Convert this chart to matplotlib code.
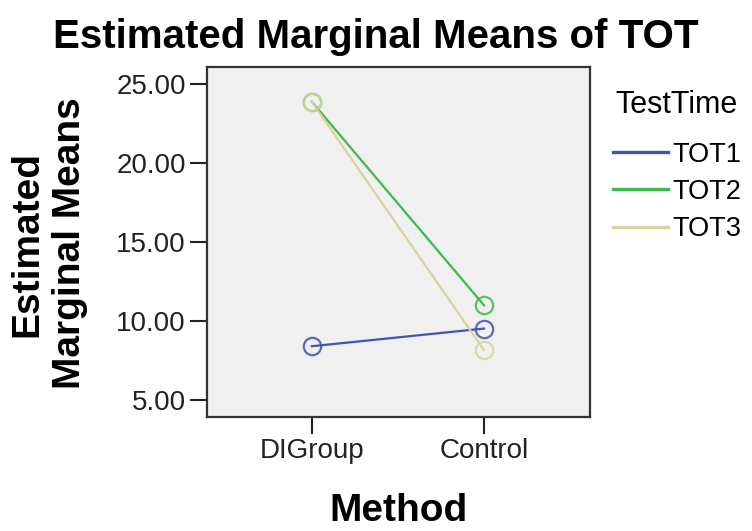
import matplotlib
matplotlib.use('Agg')
import matplotlib.pyplot as plt

# Estimated marginal means
methods = ['DIGroup', 'Control']
tot1 = [8.40, 9.52]
tot2 = [23.88, 10.99]
tot3 = [23.88, 8.15]
series_names = ['TOT1', 'TOT2', 'TOT3']
colors = ['#3f54b2', '#3fb84c', '#d8d29c']
yticks = [5, 10, 15, 20, 25]

plt.rcParams['font.family'] = ['Liberation Sans', 'DejaVu Sans']

fig = plt.figure(figsize=(7.52, 5.31), dpi=100)
ax = fig.add_axes([0.2749, 0.2147, 0.5097, 0.6597])
ax.set_facecolor('#f0f0f0')

x = list(range(len(methods)))
lines = []
for vals, name, c in zip([tot1, tot2, tot3], series_names, colors):
    ln, = ax.plot(x, vals, color=c, lw=1.6, label=name)
    lines.append(ln)
for vals, c in zip([tot1, tot2, tot3], colors):
    ax.plot(x, vals, 'o', ms=12.5, mfc='none', mec=c, mew=1.6, alpha=0.85)

ax.set_xlim(-0.61, 1.615)
ax.set_ylim(3.92, 26.1)
ax.set_xticks(x)
ax.set_xticklabels(methods)
ax.set_yticks(yticks)
ax.set_yticklabels(['%.2f' % v for v in yticks])
ax.tick_params(labelsize=20, length=12, width=1.5, colors='#222222', pad=3)
for s in ax.spines.values():
    s.set_linewidth(1.6)
    s.set_color('#333333')

fig.text(0.53, 0.018, 'Method', fontsize=28, fontweight='bold', ha='center', va='baseline')
fig.text(0.065, 0.5414, 'Estimated\nMarginal Means', fontsize=28, fontweight='bold',
         rotation=90, ha='center', va='center', multialignment='center', linespacing=1.25)
fig.text(0.4993, 0.9096, 'Estimated Marginal Means of TOT', fontsize=29, fontweight='bold',
         ha='center', va='baseline')

# legend
fig.text(615 / 752, (531 - 113) / 531, 'TestTime', fontsize=22, ha='left', va='baseline')
leg = ax.legend(handles=lines, loc='upper left', bbox_to_anchor=(613 / 752, (531 - 141.5) / 531),
                bbox_transform=fig.transFigure, frameon=False, fontsize=19.5,
                handlelength=2.04, handletextpad=0.15, labelspacing=0.42,
                borderpad=0, borderaxespad=0)
for l in leg.get_lines():
    l.set_linewidth(2.4)

fig.savefig('out.png', dpi=100)
